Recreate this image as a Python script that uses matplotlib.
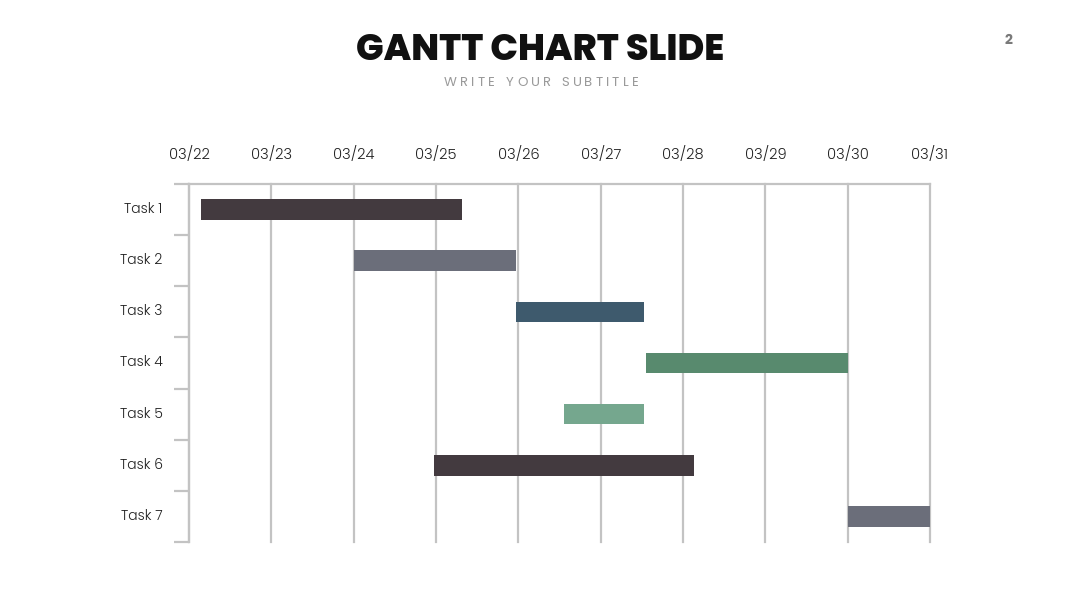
import matplotlib
matplotlib.use("Agg")
import matplotlib.pyplot as plt
from matplotlib.textpath import TextPath
from matplotlib.font_manager import FontProperties

# ---- data ----
tasks = ["Task 1", "Task 2", "Task 3", "Task 4", "Task 5", "Task 6", "Task 7"]
date_labels = ["03/22", "03/23", "03/24", "03/25", "03/26", "03/27",
               "03/28", "03/29", "03/30", "03/31"]
# start / end in days after 03/22
starts = [0.14, 2.0, 3.97, 5.55, 4.56, 2.97, 8.0]
ends = [3.31, 3.97, 5.53, 8.0, 5.53, 6.13, 9.0]
colors = ["#433a3f", "#6b6e7a", "#3e5a6d", "#588a6e", "#75a78e", "#433a3f", "#6b6e7a"]

title = "GANTT CHART SLIDE"
subtitle = "WRITE YOUR SUBTITLE"
page_no = "2"

grid_c = "#c3c3c3"
lab_fam = ["Poppins", "Lato", "DejaVu Sans"]
lab_c = "#222222"

fig = plt.figure(figsize=(10.8, 6.08), dpi=100)
fig.patch.set_facecolor("white")
ax = fig.add_axes([189 / 1080, 1 - 542 / 608, (930 - 189) / 1080, (542 - 184) / 608])

n = len(tasks)
for i in range(n):
    ax.barh(i + 0.5, ends[i] - starts[i], left=starts[i], height=0.4,
            color=colors[i], zorder=3)

ax.set_xlim(0, len(date_labels) - 1)
ax.set_ylim(n, 0)

ax.set_xticks(range(len(date_labels)))
ax.set_xticklabels(date_labels)
ax.xaxis.tick_top()
ax.tick_params(axis="x", length=0, pad=15, labelsize=10.5, labelcolor=lab_c)
for lab in ax.get_xticklabels():
    lab.set_family(lab_fam)
    lab.set_fontweight(300)

ax.set_yticks(range(n + 1))
ax.set_yticks([i + 0.5 for i in range(n)], minor=True)
ax.set_yticklabels([])
ax.set_yticklabels(tasks, minor=True)
ax.tick_params(axis="y", which="major", length=11, width=1.6, color=grid_c)
ax.tick_params(axis="y", which="minor", length=0, pad=19, labelsize=10,
               labelcolor=lab_c)
for lab in ax.get_yticklabels(minor=True):
    lab.set_family(lab_fam)
    lab.set_fontweight(300)
    lab.set_va("center")

ax.grid(axis="x", color=grid_c, linewidth=1.6, zorder=0)
for gl in ax.get_xgridlines():
    gl.set_clip_on(False)
for s in ["right", "bottom"]:
    ax.spines[s].set_visible(False)
for s in ["top", "left"]:
    ax.spines[s].set_color(grid_c)
    ax.spines[s].set_linewidth(1.6)

fig.text(0.5, 1 - 51 / 608, title, ha="center", va="center", fontsize=26.3,
         fontweight="heavy", family=["Poppins", "Inter", "Roboto", "DejaVu Sans"],
         color="#111111")

# letter-spaced subtitle
sub_size = 9.5
sub_prop = FontProperties(family=lab_fam, size=sub_size)
px_per_pt = 100 / 72
track = 4.6  # px between letters
widths = []
for ch in subtitle:
    if ch == " ":
        w = TextPath((0, 0), "a a", prop=sub_prop).get_extents().width - \
            TextPath((0, 0), "aa", prop=sub_prop).get_extents().width
    else:
        w = TextPath((0, 0), ch, prop=sub_prop).get_extents().width
    widths.append(w * px_per_pt)
total = sum(widths) + track * (len(subtitle) - 1)
x = 540 - total / 2
for ch, w in zip(subtitle, widths):
    if ch != " ":
        fig.text(x / 1080, 1 - 82.5 / 608, ch, ha="left", va="center",
                 fontsize=sub_size, color="#9a9a9a", family=lab_fam)
    x += w + track

fig.text(1008 / 1080, 1 - 41.5 / 608, page_no, ha="center", va="center", fontsize=10,
         fontweight="bold", color="#7a7a7a", family=["Poppins", "Inter", "DejaVu Sans"])

fig.savefig("out.png", dpi=100, facecolor="white")
